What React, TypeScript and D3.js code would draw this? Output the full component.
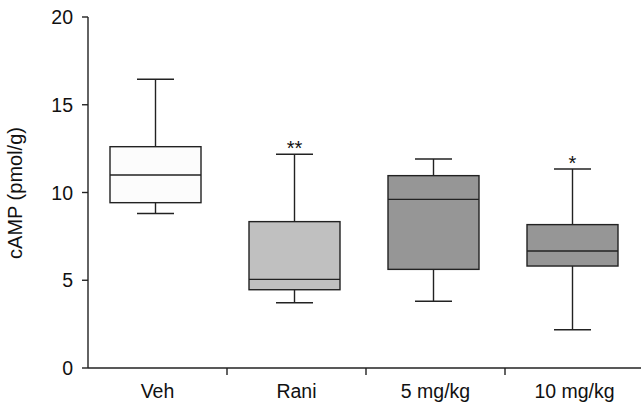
import React from "react";
import * as d3 from "d3";

const categories = ["Veh", "Rani", "5 mg/kg", "10 mg/kg"];
const whiskerLow = [8.8, 3.72, 3.8, 2.18];
const q1 = [9.42, 4.46, 5.62, 5.81];
const median = [11.0, 5.05, 9.61, 6.67];
const q3 = [12.61, 8.34, 10.96, 8.17];
const whiskerHigh = [16.45, 12.18, 11.91, 11.34];
const significance = ["", "**", "", "*"];
const fills = ["#fcfcfc", "#c0c0c0", "#969696", "#969696"];
const yTicks = [0, 5, 10, 15, 20];

export default function App() {
  const W = 641, H = 405;
  const left = 88, bottom = 368, top = 17;
  const y = d3.scaleLinear().domain([0, 20]).range([bottom, top]);
  const x = d3.scaleBand().domain(categories).range([left, left + 139 * 4]).padding(0);
  const bw = x.bandwidth();
  const boxW = 91, capW = 37;
  const stroke = "#222";
  const font = "'Liberation Sans', Arial, sans-serif";

  return (
    <svg width={W} height={H} style={{ position: "absolute", left: 0, top: 0 }}>
      <rect width={W} height={H} fill="#fff" />
      {/* y axis */}
      <line x1={left} x2={left} y1={top} y2={bottom} stroke={stroke} strokeWidth={1.4} />
      {yTicks.map((t) => (
        <g key={t}>
          <line x1={left - 6} x2={left} y1={y(t)} y2={y(t)} stroke={stroke} strokeWidth={1.4} />
          <text x={left - 15} y={y(t)} dy="0.36em" textAnchor="end" fontFamily={font} fontSize={19.5} fill="#111">
            {t}
          </text>
        </g>
      ))}
      {/* x axis */}
      <line x1={left} x2={W} y1={bottom} y2={bottom} stroke={stroke} strokeWidth={1.4} />
      {categories.slice(1).map((c) => (
        <line key={c} x1={x(c)!} x2={x(c)!} y1={bottom} y2={bottom + 7} stroke={stroke} strokeWidth={1.4} />
      ))}
      {categories.map((c) => (
        <text key={c} x={x(c)! + bw / 2} y={398} textAnchor="middle" fontFamily={font} fontSize={19.5} fill="#111">
          {c}
        </text>
      ))}
      <text
        transform={`translate(22, 193) rotate(-90)`}
        textAnchor="middle"
        fontFamily={font}
        fontSize={20}
        fill="#111"
      >
        cAMP (pmol/g)
      </text>
      {/* boxes */}
      {categories.map((c, i) => {
        const cx = x(c)! + bw / 2 - 2;
        return (
          <g key={c} stroke={stroke} strokeWidth={1.4}>
            <line x1={cx} x2={cx} y1={y(whiskerHigh[i])} y2={y(q3[i])} />
            <line x1={cx} x2={cx} y1={y(q1[i])} y2={y(whiskerLow[i])} />
            <line x1={cx - capW / 2} x2={cx + capW / 2} y1={y(whiskerHigh[i])} y2={y(whiskerHigh[i])} />
            <line x1={cx - capW / 2} x2={cx + capW / 2} y1={y(whiskerLow[i])} y2={y(whiskerLow[i])} />
            <rect x={cx - boxW / 2} y={y(q3[i])} width={boxW} height={y(q1[i]) - y(q3[i])} fill={fills[i]} />
            <line x1={cx - boxW / 2} x2={cx + boxW / 2} y1={y(median[i])} y2={y(median[i])} />
            {significance[i] && (
              <text
                x={cx}
                y={y(whiskerHigh[i]) + 1}
                textAnchor="middle"
                fontFamily={font}
                fontSize={20}
                fill="#111"
                stroke="none"
              >
                {significance[i]}
              </text>
            )}
          </g>
        );
      })}
    </svg>
  );
}
